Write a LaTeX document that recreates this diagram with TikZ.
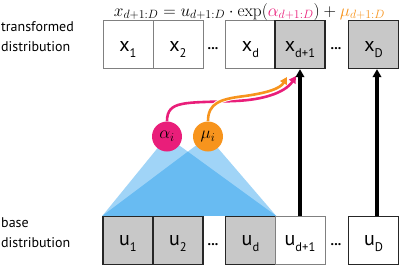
\documentclass[tikz,border=0pt]{standalone}
\usepackage[no-math]{fontspec}
\setmainfont{PT Sans}
\usepackage{amsmath}
\usetikzlibrary{arrows.meta,backgrounds}
\definecolor{flowpink}{RGB}{233,30,122}
\definecolor{floworange}{RGB}{247,148,29}
\definecolor{flowblue}{RGB}{18,148,235}
\definecolor{cellgray}{RGB}{200,200,200}
\definecolor{edgegray}{RGB}{128,128,128}
\tikzset{
  opencell/.style={rectangle,draw=edgegray,line width=0.9pt,fill=white,minimum width=50pt,inner sep=0pt},
  maskcell/.style={opencell,draw=black!85,line width=1.3pt,fill=cellgray},
  closedcell/.style={opencell,draw=black!85,line width=1.3pt},
  toprow/.style={text height=31pt,text depth=17pt},
  baserow/.style={text height=29pt,text depth=19pt},
  paramnode/.style={circle,minimum size=30pt,inner sep=0pt,font=\fontsize{18}{18}\selectfont},
  sidelabel/.style={anchor=west,align=left,inner sep=0pt,font=\fontsize{14}{20}\selectfont},
  gapdots/.style={anchor=base,inner sep=0pt,font=\fontsize{14}{14}\selectfont\bfseries},
  passarrow/.style={-{Triangle[length=8pt,width=8.5pt]},line width=3.2pt},
  paramarrow/.style={-{Triangle[length=7pt,width=7.5pt]},line width=2.6pt},
  coneshade/.style={fill=flowblue,fill opacity=0.4}
}
\newcommand{\cellname}[2]{{\fontsize{20}{20}\selectfont #1}\raisebox{-6pt}{\fontsize{12.5}{12.5}\selectfont #2}}

\begin{document}
\begin{tikzpicture}[x=1pt,y=-1pt]
  \useasboundingbox (0,0) rectangle (400,266);
  % side labels
  \node[sidelabel] (toplabel) at (1,37) {transformed\\distribution};
  \node[sidelabel] (baselabel) at (1,233) {base\\distribution};
  % transformed row
  \node[opencell,toprow] (x1) at (128,44.5) {\cellname{x}{1}};
  \node[opencell,toprow] (x2) at (178,44.5) {\cellname{x}{2}};
  \node[opencell,toprow] (xd) at (250.5,44.5) {\cellname{x}{d}};
  \node[maskcell,toprow] (xd1) at (300,44.5) {\cellname{x}{d+1}};
  \node[maskcell,toprow] (xD) at (373.5,44.5) {\cellname{x}{D}};
  \node[gapdots] (topdotsA) at (213,49) {...};
  \node[gapdots] (topdotsB) at (336,49) {...};
  % base row
  \node[maskcell,baserow] (u1) at (128,240.5) {\cellname{u}{1}};
  \node[maskcell,baserow] (u2) at (178,240.5) {\cellname{u}{2}};
  \node[maskcell,baserow] (ud) at (250.5,240.5) {\cellname{u}{d}};
  \node[opencell,baserow] (ud1) at (300,240.5) {\cellname{u}{d+1}};
  \node[closedcell,baserow] (uD) at (373.5,240.5) {\cellname{u}{D}};
  \node[gapdots] (basedotsA) at (213,245) {...};
  \node[gapdots] (basedotsB) at (336,245) {...};
  % coupling parameters
  \node[paramnode,fill=flowpink] (alpha) at (167,136.5) {$\alpha_i$};
  \node[paramnode,fill=floworange] (mu) at (208,136.5) {$\mu_i$};
  \begin{scope}[on background layer]
    \fill[coneshade] (alpha.center) -- (u1.north west) -- (ud.north east) -- cycle;
    \fill[coneshade] (mu.center) -- (u1.north west) -- (ud.north east) -- cycle;
  \end{scope}
  % equation
  \node[anchor=base,inner sep=0pt] (eqn) at (249.5,16) {\fontsize{18.4}{21}\selectfont
    $x_{d+1:D} = u_{d+1:D}\cdot\exp(\textcolor{flowpink}{\alpha_{d+1:D}}) + \textcolor{floworange}{\mu_{d+1:D}}$};
  % arrows
  \coordinate (tipA) at (296,76);
  \coordinate (tipM) at (287,77);
  \draw[paramarrow,draw=flowpink] (alpha.north)
    .. controls (167,100) and (185,103) .. (235,101)
    .. controls (262,100) and (285,93) .. (tipA);
  \draw[paramarrow,draw=floworange,
    preaction={draw=white,line width=4.4pt}] (mu.north)
    .. controls (208,103) and (220,99) .. (245,96)
    .. controls (266,93) and (280,89) .. (tipM);
  \draw[passarrow] (ud1.north) -- (xd1.south);
  \draw[passarrow] ([xshift=3.5pt]uD.north) -- ([xshift=3.5pt]xD.south);
\end{tikzpicture}
\end{document}
